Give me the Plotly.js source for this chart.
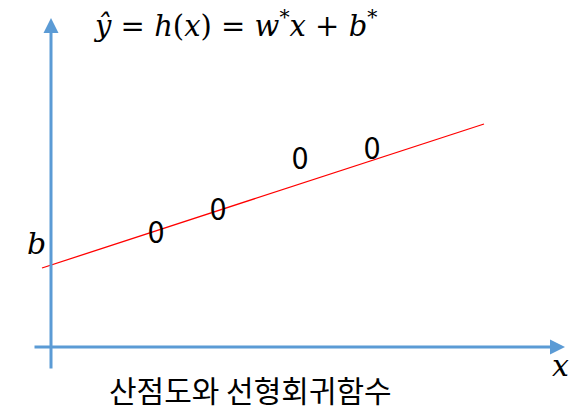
<!DOCTYPE html>
<html>
<head>
<meta charset="utf-8">
<script src="https://cdn.plot.ly/plotly-3.0.1.min.js"></script>
<style>
  html, body { margin: 0; padding: 0; background: #fff; }
  #chart { width: 576px; height: 408px; }
</style>
</head>
<body>
<div id="chart"></div>
<script>
// Scatter observations
const pointX = [2.10, 3.34, 4.98, 6.42];
const pointY = [2.24, 2.70, 3.72, 3.92];
const pointLabels = ["0", "0", "0", "0"];

// Fitted regression line end points
const lineX = [-0.18, 8.66];
const lineY = [1.58, 4.46];

// Axis arrows: [tail, tip]
const xAxisArrow = [[-0.36, 0], [10.28, 0]];
const yAxisArrow = [[0, -0.46], [0, 6.58]];

// Text labels
const formulaText = "<i>ŷ</i> = <i>h</i>(<i>x</i>) = <i>w</i><sup>*</sup><i>x</i> + <i>b</i><sup>*</sup>";
const interceptLabel = "b";
const xLabel = "x";
const captionText = "산점도와 선형회귀함수";

const axisBlue = "#5B9BD5";

const traces = [
  {
    x: lineX, y: lineY, type: "scatter", mode: "lines",
    line: { color: "#FF0000", width: 1.3 },
    hoverinfo: "skip", showlegend: false
  },
  {
    x: pointX, y: pointY, type: "scatter", mode: "text",
    text: pointLabels, textposition: "middle center",
    textfont: { family: "Noto Sans CJK KR, Noto Sans, sans-serif", size: 30, color: "#000" },
    hoverinfo: "skip", showlegend: false
  }
];

function arrow(seg) {
  return {
    x: seg[1][0], y: seg[1][1], ax: seg[0][0], ay: seg[0][1],
    xref: "x", yref: "y", axref: "x", ayref: "y",
    text: "", showarrow: true, arrowhead: 2, arrowsize: 1,
    arrowwidth: 3, arrowcolor: axisBlue, standoff: 0, startstandoff: 0
  };
}

const layout = {
  width: 576, height: 408,
  margin: { l: 0, r: 0, t: 0, b: 0 },
  paper_bgcolor: "#fff", plot_bgcolor: "#fff",
  xaxis: { range: [-1.02, 10.5], visible: false, fixedrange: true },
  yaxis: { range: [-1.22, 6.94], visible: false, fixedrange: true },
  showlegend: false,
  annotations: [
    arrow(xAxisArrow),
    arrow(yAxisArrow),
    {
      x: 3.68, y: 6.47, xref: "x", yref: "y", text: formulaText, showarrow: false,
      xanchor: "center", yanchor: "middle",
      font: { family: "DejaVu Serif, serif", size: 29, color: "#000" }
    },
    {
      x: -0.29, y: 2.08, xref: "x", yref: "y", text: "<i>" + interceptLabel + "</i>", showarrow: false,
      xanchor: "center", yanchor: "middle",
      font: { family: "DejaVu Serif, serif", size: 30, color: "#000" }
    },
    {
      x: 10.18, y: -0.36, xref: "x", yref: "y", text: "<i>" + xLabel + "</i>", showarrow: false,
      xanchor: "center", yanchor: "middle",
      font: { family: "DejaVu Serif, serif", size: 30, color: "#000" }
    },
    {
      x: 3.98, y: -0.84, xref: "x", yref: "y", text: captionText, showarrow: false,
      xanchor: "center", yanchor: "middle",
      font: { family: "Noto Sans CJK KR, sans-serif", size: 30, color: "#000" }
    }
  ]
};

Plotly.newPlot("chart", traces, layout, { staticPlot: true, displayModeBar: false });
</script>
</body>
</html>
